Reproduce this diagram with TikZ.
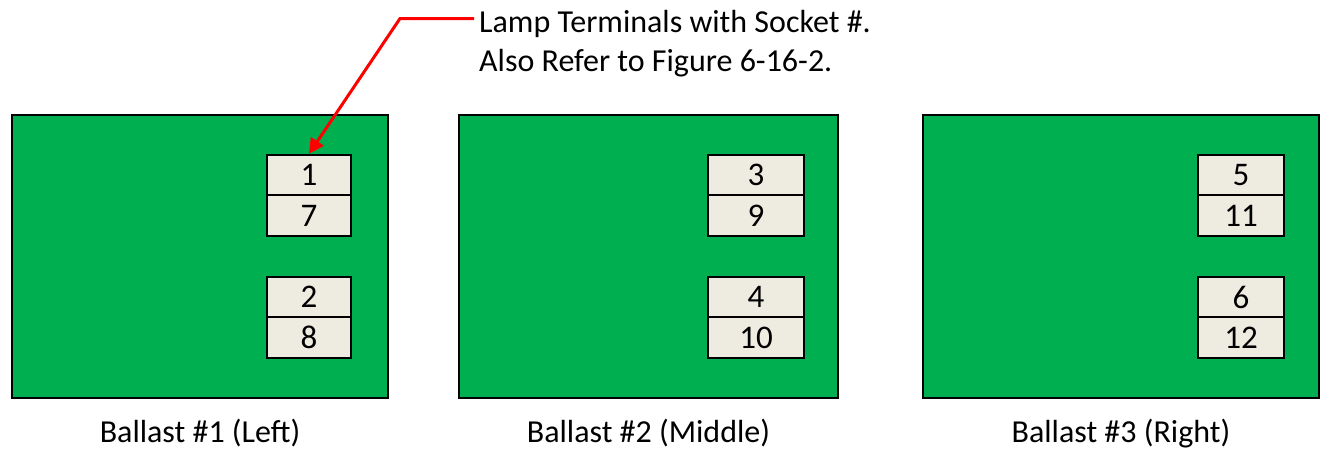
\documentclass[tikz,border=0pt]{standalone}
\usepackage{fontspec}
\setmainfont{Carlito}
\usetikzlibrary{arrows.meta}
\definecolor{boardgreen}{HTML}{00AF50}
\definecolor{termfill}{HTML}{EEECE1}
\definecolor{arrowred}{HTML}{FF0000}
\begin{document}
\begin{tikzpicture}[x=1pt,y=-1pt,
  board/.style={draw=black,line width=2.5pt,fill=boardgreen,inner sep=0pt,minimum width=#1,minimum height=283pt},
  cell/.style={draw=black,line width=2pt,fill=termfill,inner sep=0pt,minimum width=#1,minimum height=40.5pt,font=\fontsize{33}{38}\selectfont},
  cell/.default=83.5pt,
  caption/.style={anchor=base,inner sep=0pt,font=\fontsize{32}{38}\selectfont},
  note/.style={anchor=base west,inner sep=0pt,font=\fontsize{32}{38}\selectfont},
  pointer/.style={draw=arrowred,line width=3pt,-{Triangle[length=15pt,width=15pt]}}]
\useasboundingbox (0,0) rectangle (1321,450);
% boards
\node[board=376pt] (b1) at (200,256.5) {};
\node[board=379pt] (b2) at (648.5,256.5) {};
\node[board=396pt] (b3) at (1121,256.5) {};
% terminals board 1
\node[cell] (t1) at (309,175) {1};
\node[cell] (t7) at (309,215.5) {7};
\node[cell] (t2) at (309,297) {2};
\node[cell] (t8) at (309,337.5) {8};
% terminals board 2
\node[cell=96pt] (t3) at (756,175) {3};
\node[cell=96pt] (t9) at (756,215.5) {9};
\node[cell=96pt] (t4) at (756,297) {4};
\node[cell=96pt] (t10) at (756,337.5) {10};
% terminals board 3
\node[cell=85.5pt] (t5) at (1241,175) {5};
\node[cell=85.5pt] (t11) at (1241,215.5) {11};
\node[cell=85.5pt] (t6) at (1241,297) {6};
\node[cell=85.5pt] (t12) at (1241,337.5) {12};
% captions
\node[caption] (c1) at (200,442.5) {Ballast \#1 (Left)};
\node[caption] (c2) at (648.5,442.5) {Ballast \#2 (Middle)};
\node[caption] (c3) at (1121,442.5) {Ballast \#3 (Right)};
% note
\node[note] (n1) at (479,32) {Lamp Terminals with Socket \#.};
\node[note] (n2) at (479,71) {Also Refer to Figure 6-16-2.};
\coordinate (nstart) at (474,18.5);
\coordinate (elbow) at (400,18.5);
\draw[pointer] (nstart) -- (elbow) -- (t1.north);
\end{tikzpicture}
\end{document}
